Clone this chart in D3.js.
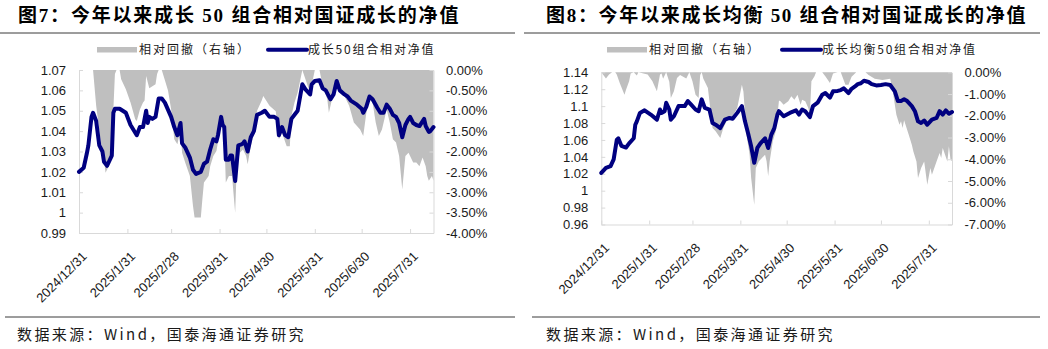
<!DOCTYPE html>
<html>
<head>
<meta charset="utf-8">
<script src="https://cdn.jsdelivr.net/npm/d3@7"></script>
<style>
  body { margin: 0; background: #fff; }
  svg { display: block; }
</style>
</head>
<body>
<svg id="chart" width="1048" height="349"></svg>
<script>
// ---------- Figure 7: 成长50组合 ----------
const lineDates7 = ["2024-12-31","2025-01-03","2025-01-05","2025-01-06","2025-01-08","2025-01-09","2025-01-11","2025-01-13","2025-01-15","2025-01-16",
  "2025-01-18","2025-01-21","2025-01-22","2025-01-23","2025-01-26","2025-01-30","2025-02-02","2025-02-06","2025-02-08","2025-02-10",
  "2025-02-12","2025-02-13","2025-02-14","2025-02-16","2025-02-18","2025-02-20","2025-02-22","2025-02-24","2025-02-28","2025-03-02",
  "2025-03-04","2025-03-06","2025-03-07","2025-03-09","2025-03-12","2025-03-14","2025-03-16","2025-03-19","2025-03-21","2025-03-23",
  "2025-03-25","2025-03-27","2025-03-29","2025-03-30","2025-04-01","2025-04-02","2025-04-03","2025-04-04","2025-04-06","2025-04-07",
  "2025-04-08","2025-04-10","2025-04-12","2025-04-14","2025-04-15","2025-04-16","2025-04-18","2025-04-20","2025-04-22","2025-04-24",
  "2025-04-27","2025-04-29","2025-05-02","2025-05-05","2025-05-07","2025-05-08","2025-05-10","2025-05-12","2025-05-14","2025-05-16",
  "2025-05-18","2025-05-20","2025-05-23","2025-05-25","2025-05-28","2025-05-29","2025-05-31","2025-06-03","2025-06-05","2025-06-07",
  "2025-06-10","2025-06-12","2025-06-14","2025-06-16","2025-06-19","2025-06-21","2025-06-23","2025-06-27","2025-06-30","2025-07-01",
  "2025-07-03","2025-07-05","2025-07-07","2025-07-10","2025-07-12","2025-07-14","2025-07-16","2025-07-18","2025-07-20","2025-07-22",
  "2025-07-24","2025-07-26","2025-07-28","2025-07-30","2025-07-31","2025-08-02","2025-08-04","2025-08-06","2025-08-09","2025-08-10",
  "2025-08-12","2025-08-13","2025-08-15"];
const netValue7 = [1.020,1.022,1.029,1.033,1.047,1.049,1.045,1.033,1.030,1.025,
  1.023,1.028,1.049,1.051,1.051,1.049,1.043,1.038,1.042,1.042,
  1.050,1.044,1.047,1.046,1.047,1.056,1.056,1.054,1.047,1.042,
  1.038,1.044,1.034,1.032,1.027,1.021,1.019,1.020,1.024,1.025,
  1.031,1.036,1.035,1.038,1.047,1.043,1.042,1.026,1.026,1.028,
  1.028,1.0155,1.033,1.0335,1.034,1.035,1.030,1.037,1.040,1.048,
  1.049,1.050,1.047,1.047,1.046,1.038,1.042,1.038,1.037,1.046,
  1.048,1.050,1.063,1.0605,1.058,1.063,1.0646,1.065,1.061,1.060,
  1.0556,1.058,1.0646,1.060,1.058,1.057,1.055,1.053,1.051,1.049,
  1.052,1.057,1.0556,1.0515,1.049,1.049,1.053,1.051,1.048,1.047,
  1.044,1.037,1.043,1.046,1.047,1.044,1.043,1.0425,1.046,1.0425,
  1.0396,1.040,1.042];
const ddDates7 = ["2024-12-31","2025-01-09","2025-01-11","2025-01-14","2025-01-16","2025-01-17","2025-01-19","2025-01-21","2025-01-22","2025-01-23",
  "2025-01-24","2025-01-26","2025-01-27","2025-01-30","2025-02-02","2025-02-05","2025-02-06","2025-02-08","2025-02-10","2025-02-11",
  "2025-02-12","2025-02-14","2025-02-16","2025-02-18","2025-02-19","2025-02-20","2025-02-22","2025-02-24","2025-02-26","2025-02-28",
  "2025-03-02","2025-03-04","2025-03-06","2025-03-07","2025-03-09","2025-03-12","2025-03-14","2025-03-15","2025-03-19","2025-03-20",
  "2025-03-21","2025-03-24","2025-03-25","2025-03-27","2025-03-29","2025-03-31","2025-04-01","2025-04-03","2025-04-04","2025-04-06",
  "2025-04-08","2025-04-10","2025-04-11","2025-04-13","2025-04-15","2025-04-17","2025-04-18","2025-04-20","2025-04-22","2025-04-24",
  "2025-04-27","2025-04-28","2025-05-02","2025-05-06","2025-05-08","2025-05-10","2025-05-13","2025-05-15","2025-05-16","2025-05-18",
  "2025-05-20","2025-05-23","2025-05-25","2025-05-28","2025-05-31","2025-06-03","2025-06-05","2025-06-08","2025-06-09","2025-06-13",
  "2025-06-14","2025-06-16","2025-06-19","2025-06-22","2025-06-25","2025-06-29","2025-07-01","2025-07-03","2025-07-05","2025-07-07",
  "2025-07-09","2025-07-11","2025-07-13","2025-07-16","2025-07-18","2025-07-20","2025-07-22","2025-07-24","2025-07-26","2025-07-28",
  "2025-07-30","2025-07-31","2025-08-02","2025-08-04","2025-08-06","2025-08-08","2025-08-10","2025-08-11","2025-08-12","2025-08-14",
  "2025-08-15"];
const drawdown7 = [0,0,-0.88,-1.78,-2.19,-2.52,-2.36,-2.11,-0.97,-0.10,
  0,0,-0.23,-0.47,-0.80,-1.21,-1.25,-0.97,-0.80,-0.75,
  -0.15,-0.45,-0.40,-0.35,-0.10,0,0,-0.25,-0.50,-0.97,
  -1.70,-1.82,-1.46,-2.03,-2.27,-2.60,-3.34,-3.62,-3.62,-3.17,
  -2.76,-2.60,-2.36,-2.11,-1.99,-1.54,-1.21,-1.54,-2.76,-2.60,
  -2.60,-3.50,-2.36,-2.03,-1.95,-2.11,-2.31,-1.87,-1.54,-1.00,
  -0.75,-0.64,-0.88,-1.01,-1.70,-1.54,-1.87,-1.87,-1.13,-0.80,
  -0.56,0,-0.23,-0.56,0,0,-0.39,-0.72,-1.05,-0.39,
  -0.23,-0.47,-0.64,-0.88,-1.29,-1.46,-1.62,-1.05,-0.72,-0.80,
  -1.29,-1.62,-1.46,-0.97,-1.29,-1.70,-1.78,-2.11,-2.93,-2.11,
  -2.03,-2.11,-2.27,-2.27,-2.36,-2.15,-2.36,-2.60,-2.72,-2.60,
  -2.72];
const valueTicks7 = [0.99,1.00,1.01,1.02,1.03,1.04,1.05,1.06,1.07];
const ddTicks7 = [-4,-3.5,-3,-2.5,-2,-1.5,-1,-0.5,0];

// ---------- Figure 8: 成长均衡50组合 ----------
const lineDates8 = ["2024-12-31","2025-01-03","2025-01-06","2025-01-08","2025-01-10","2025-01-11","2025-01-13","2025-01-16","2025-01-18","2025-01-21",
  "2025-01-22","2025-01-23","2025-01-25","2025-01-28","2025-02-01","2025-02-05","2025-02-07","2025-02-08","2025-02-10","2025-02-11",
  "2025-02-13","2025-02-14","2025-02-16","2025-02-19","2025-02-23","2025-02-25","2025-02-27","2025-03-02","2025-03-04","2025-03-06",
  "2025-03-08","2025-03-11","2025-03-13","2025-03-15","2025-03-18","2025-03-21","2025-03-24","2025-03-26","2025-03-29","2025-04-01",
  "2025-04-03","2025-04-05","2025-04-07","2025-04-09","2025-04-11","2025-04-13","2025-04-16","2025-04-18","2025-04-20","2025-04-22",
  "2025-04-24","2025-04-25","2025-04-28","2025-05-02","2025-05-06","2025-05-08","2025-05-10","2025-05-12","2025-05-15","2025-05-17",
  "2025-05-20","2025-05-23","2025-05-25","2025-05-28","2025-05-30","2025-06-02","2025-06-04","2025-06-06","2025-06-09","2025-06-11",
  "2025-06-13","2025-06-15","2025-06-17","2025-06-19","2025-06-22","2025-06-24","2025-06-27","2025-06-30","2025-07-03","2025-07-06",
  "2025-07-09","2025-07-11","2025-07-13","2025-07-15","2025-07-17","2025-07-20","2025-07-22","2025-07-24","2025-07-26","2025-07-28",
  "2025-07-30","2025-08-02","2025-08-05","2025-08-07","2025-08-09","2025-08-11","2025-08-13","2025-08-15"];
const netValue8 = [1.021,1.027,1.029,1.037,1.060,1.062,1.053,1.051,1.056,1.062,
  1.078,1.082,1.092,1.095,1.090,1.084,1.096,1.092,1.094,1.104,
  1.096,1.084,1.088,1.100,1.100,1.106,1.102,1.096,1.094,1.108,
  1.098,1.096,1.080,1.078,1.074,1.084,1.086,1.085,1.092,1.100,
  1.082,1.068,1.0525,1.033,1.0505,1.056,1.062,1.0505,1.066,1.074,
  1.090,1.094,1.088,1.092,1.095,1.090,1.096,1.094,1.087,1.100,
  1.104,1.1135,1.1155,1.110,1.1175,1.118,1.119,1.121,1.1155,1.1205,
  1.123,1.126,1.127,1.130,1.1285,1.126,1.1245,1.125,1.126,1.125,
  1.1175,1.106,1.106,1.108,1.106,1.100,1.094,1.082,1.080,1.083,
  1.078,1.084,1.086,1.094,1.090,1.095,1.091,1.093];
const ddDates8 = ["2024-12-31","2025-01-03","2025-01-05","2025-01-07","2025-01-09","2025-01-10","2025-01-12","2025-01-15","2025-01-16","2025-01-18",
  "2025-01-19","2025-01-21","2025-01-23","2025-01-24","2025-01-30","2025-02-02","2025-02-05","2025-02-07","2025-02-08","2025-02-09",
  "2025-02-11","2025-02-13","2025-02-14","2025-02-16","2025-02-18","2025-02-20","2025-02-24","2025-02-26","2025-02-28","2025-03-02",
  "2025-03-04","2025-03-05","2025-03-06","2025-03-07","2025-03-10","2025-03-13","2025-03-15","2025-03-18","2025-03-20","2025-03-23",
  "2025-03-26","2025-03-29","2025-04-01","2025-04-02","2025-04-04","2025-04-06","2025-04-07","2025-04-09","2025-04-10","2025-04-12",
  "2025-04-14","2025-04-16","2025-04-17","2025-04-18","2025-04-19","2025-04-21","2025-04-23","2025-04-25","2025-04-26","2025-04-28",
  "2025-05-01","2025-05-03","2025-05-05","2025-05-07","2025-05-09","2025-05-10","2025-05-12","2025-05-14","2025-05-15","2025-05-16",
  "2025-05-18","2025-05-19","2025-05-23","2025-05-25","2025-05-28","2025-05-30","2025-06-02","2025-06-04","2025-06-07","2025-06-09",
  "2025-06-11","2025-06-14","2025-06-20","2025-06-22","2025-06-26","2025-07-01","2025-07-06","2025-07-08","2025-07-10","2025-07-12",
  "2025-07-13","2025-07-14","2025-07-15","2025-07-18","2025-07-20","2025-07-21","2025-07-23","2025-07-24","2025-07-26","2025-07-28",
  "2025-07-30","2025-08-01","2025-08-02","2025-08-05","2025-08-07","2025-08-08","2025-08-09","2025-08-12","2025-08-13","2025-08-14",
  "2025-08-15"];
const drawdown8 = [0,-0.28,-0.10,0,0,-0.10,-0.50,-1.03,-0.80,-0.41,
  -0.05,0,-0.15,0,-0.10,-0.40,-0.87,-0.10,-0.05,-0.30,
  0,-0.43,-1.18,-0.87,-0.26,-0.12,-0.28,0,-0.41,-1.03,
  -1.18,-0.12,0,-0.28,-0.72,-2.56,-2.71,-3.02,-2.56,-2.10,
  -2.02,-1.64,-0.57,-0.90,-2.87,-3.79,-4.86,-6.09,-4.40,-4.09,
  -3.94,-3.79,-4.09,-4.78,-4.09,-3.17,-2.70,-1.30,-1.33,-1.49,
  -1.33,-1.10,-1.26,-1.03,-1.49,-1.26,-1.33,-1.64,-1.95,-0.41,
  -0.18,0,0,-0.18,-0.49,-0.05,0,0,-0.57,-0.57,
  -0.20,0,0,-0.12,-0.30,-0.35,-0.30,-1.03,-1.95,-2.41,
  -2.25,-2.56,-2.20,-2.87,-3.33,-3.64,-4.10,-4.86,-4.40,-4.10,
  -5.17,-4.40,-4.71,-4.10,-3.71,-3.94,-3.48,-4.10,-3.40,-4.00,
  -4.09];
const valueTicks8 = [0.96,0.98,1.00,1.02,1.04,1.06,1.08,1.10,1.12,1.14];
const ddTicks8 = [-7,-6,-5,-4,-3,-2,-1,0];

// shared month-end ticks on the date axis
const monthEnds = ["2024-12-31","2025-01-31","2025-02-28","2025-03-31","2025-04-30","2025-05-31","2025-06-30","2025-07-31"];

const titles = ["图7：今年以来成长 50 组合相对国证成长的净值", "图8：今年以来成长均衡 50 组合相对国证成长的净值"];
const legendArea = "相对回撤（右轴）";
const legendLines = ["成长50组合相对净值", "成长均衡50组合相对净值"];
const sourceText = "数据来源：Wind，国泰海通证券研究";

const parse = d3.timeParse("%Y-%m-%d");
const svg = d3.select("#chart");

const CJK = "'Noto Sans CJK SC', 'Liberation Sans', sans-serif";
const LATIN = "'Liberation Sans', Arial, sans-serif";
const AXIS_COLOR = "#d9d9d9";
const LINE_COLOR = "#000080";
const AREA_COLOR = "#bfbfbf";
const TEXT_COLOR = "#1a1a1a";

function drawPanel(cfg) {
  const g = svg.append("g");

  // header: title and rule
  g.append("text")
    .attr("x", cfg.titleX).attr("y", 22)
    .attr("font-family", "'Liberation Serif', 'Noto Sans CJK SC', serif")
    .attr("font-weight", "bold").attr("font-size", 19)
    .attr("letter-spacing", cfg.titleSpacing)
    .attr("fill", "#000")
    .text(cfg.title);
  g.append("line")
    .attr("x1", cfg.topRule[0]).attr("x2", cfg.topRule[1])
    .attr("y1", 33).attr("y2", 33)
    .attr("stroke", "#3a3a3a").attr("stroke-width", 1);

  // footer: rule and source
  g.append("line")
    .attr("x1", cfg.bottomRule[0]).attr("x2", cfg.bottomRule[1])
    .attr("y1", 317).attr("y2", 317)
    .attr("stroke", "#3a3a3a").attr("stroke-width", 1);
  g.append("text")
    .attr("x", cfg.sourceX).attr("y", 340)
    .attr("font-family", CJK).attr("font-size", 15)
    .attr("letter-spacing", 2.4)
    .attr("fill", TEXT_COLOR)
    .text(sourceText);

  // scales
  const lineData = cfg.lineDates.map((d, i) => ({ date: parse(d), v: cfg.values[i] }));
  const ddData = cfg.ddDates.map((d, i) => ({ date: parse(d), v: cfg.drawdown[i] }));
  const x = d3.scaleTime()
    .domain(d3.extent(lineData, d => d.date))
    .range([cfg.left, cfg.right]);
  const yL = d3.scaleLinear()
    .domain(d3.extent(cfg.valueTicks))
    .range([cfg.bottom, cfg.top]);
  const yR = d3.scaleLinear()
    .domain(d3.extent(cfg.ddTicks))
    .range([cfg.bottom, cfg.top]);

  // drawdown area hanging from the 0% line
  g.append("path")
    .datum(ddData)
    .attr("fill", AREA_COLOR)
    .attr("d", d3.area().x(d => x(d.date)).y0(yR(0)).y1(d => yR(d.v)));

  // axes
  const styleAxis = sel => {
    sel.select(".domain").attr("stroke", AXIS_COLOR);
    sel.selectAll(".tick line").attr("stroke", AXIS_COLOR);
    sel.selectAll("text").attr("fill", TEXT_COLOR)
      .attr("font-family", LATIN).attr("font-size", 13);
  };
  const fmtValue = d => String(+d.toFixed(2));
  const fmtPct = d => d.toFixed(2) + "%";

  g.append("g")
    .attr("transform", `translate(${cfg.left},0)`)
    .call(d3.axisLeft(yL).tickValues(cfg.valueTicks).tickFormat(fmtValue)
      .tickSizeInner(-4).tickSizeOuter(0).tickPadding(13))
    .call(styleAxis);

  g.append("g")
    .attr("transform", `translate(${cfg.right},0)`)
    .call(d3.axisRight(yR).tickValues(cfg.ddTicks).tickFormat(fmtPct)
      .tickSizeInner(-4).tickSizeOuter(0).tickPadding(12.5))
    .call(styleAxis);

  const xAxis = g.append("g")
    .attr("transform", `translate(0,${cfg.bottom})`)
    .call(d3.axisBottom(x).tickValues(monthEnds.map(parse))
      .tickFormat(d3.timeFormat("%Y/%-m/%-d"))
      .tickSizeInner(-4).tickSizeOuter(0))
    .call(styleAxis);
  xAxis.selectAll(".tick text")
    .attr("font-size", 13)
    .attr("x", 0).attr("y", 0).attr("dy", "0.35em")
    .attr("text-anchor", "end")
    .attr("transform", "translate(5,21) rotate(-45)");

  // net value line
  g.append("path")
    .datum(lineData)
    .attr("fill", "none")
    .attr("stroke", LINE_COLOR)
    .attr("stroke-width", 4)
    .attr("stroke-linejoin", "round")
    .attr("stroke-linecap", "round")
    .attr("d", d3.line().x(d => x(d.date)).y(d => yL(d.v)));

  // legend
  const lg = cfg.legend;
  g.append("rect")
    .attr("x", lg.areaX).attr("y", 47).attr("width", 40).attr("height", 5.5)
    .attr("fill", AREA_COLOR);
  g.append("text")
    .attr("x", lg.areaX + 42).attr("y", 54)
    .attr("font-family", CJK).attr("font-size", 12).attr("letter-spacing", 2)
    .attr("fill", TEXT_COLOR).text(legendArea);
  g.append("line")
    .attr("x1", lg.lineX).attr("x2", lg.lineX + 39)
    .attr("y1", 49.7).attr("y2", 49.7)
    .attr("stroke", LINE_COLOR).attr("stroke-width", 4).attr("stroke-linecap", "round");
  g.append("text")
    .attr("x", lg.lineX + 40).attr("y", 54)
    .attr("font-family", CJK).attr("font-size", 12).attr("letter-spacing", 1.8)
    .attr("fill", TEXT_COLOR).text(cfg.legendLine);
}

drawPanel({
  title: titles[0], titleX: 18, titleSpacing: 1.8,
  topRule: [0, 515], bottomRule: [5, 515], sourceX: 17,
  left: 79, right: 433.5, top: 70, bottom: 233,
  lineDates: lineDates7, values: netValue7,
  ddDates: ddDates7, drawdown: drawdown7,
  valueTicks: valueTicks7, ddTicks: ddTicks7,
  legend: { areaX: 97, lineX: 268 },
  legendLine: legendLines[0]
});

drawPanel({
  title: titles[1], titleX: 546, titleSpacing: 1.7,
  topRule: [524, 1040], bottomRule: [532, 1040], sourceX: 546,
  left: 601.3, right: 952, top: 72.3, bottom: 224.5,
  lineDates: lineDates8, values: netValue8,
  ddDates: ddDates8, drawdown: drawdown8,
  valueTicks: valueTicks8, ddTicks: ddTicks8,
  legend: { areaX: 607, lineX: 782 },
  legendLine: legendLines[1]
});
</script>
</body>
</html>
